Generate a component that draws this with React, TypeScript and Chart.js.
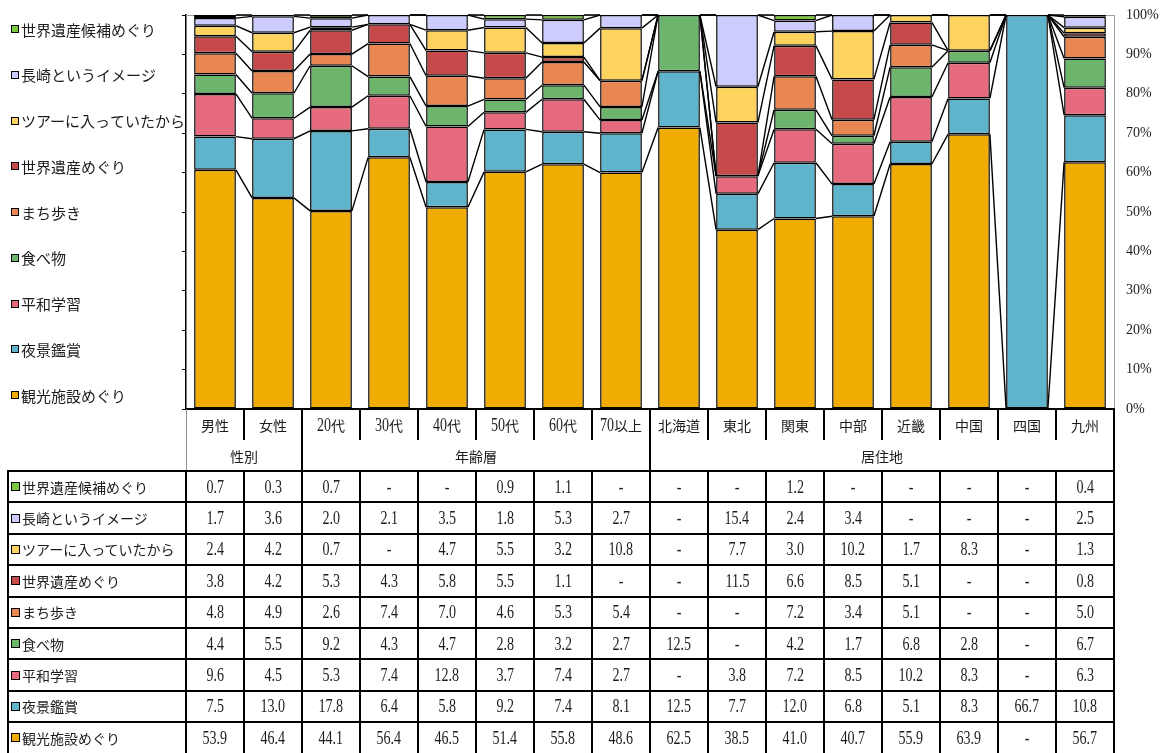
import React, { useEffect, useRef } from 'react';
import { Chart, registerables } from 'chart.js';
Chart.register(...registerables);

// ---------- data ----------
const categories = ['男性', '女性', '20代', '30代', '40代', '50代', '60代', '70以上', '北海道', '東北', '関東', '中部', '近畿', '中国', '四国', '九州'];
const groupLabels = ['性別', '年齢層', '居住地'];
const groupSpans = [2, 6, 8];

// series, bottom of the stack first
const seriesNames = ['観光施設めぐり', '夜景鑑賞', '平和学習', '食べ物', 'まち歩き', '世界遺産めぐり', 'ツアーに入っていたから', '長崎というイメージ', '世界遺産候補めぐり'];
const seriesColors = ['#F0AC00', '#5FB3CA', '#E66B7E', '#6DB56D', '#E88752', '#C64A4A', '#FFD45E', '#CCCCFF', '#7DC843'];

const kankoShisetsu = [53.9, 46.4, 44.1, 56.4, 46.5, 51.4, 55.8, 48.6, 62.5, 38.5, 41.0, 40.7, 55.9, 63.9, null, 56.7];
const yakei = [7.5, 13.0, 17.8, 6.4, 5.8, 9.2, 7.4, 8.1, 12.5, 7.7, 12.0, 6.8, 5.1, 8.3, 66.7, 10.8];
const heiwa = [9.6, 4.5, 5.3, 7.4, 12.8, 3.7, 7.4, 2.7, null, 3.8, 7.2, 8.5, 10.2, 8.3, null, 6.3];
const tabemono = [4.4, 5.5, 9.2, 4.3, 4.7, 2.8, 3.2, 2.7, 12.5, null, 4.2, 1.7, 6.8, 2.8, null, 6.7];
const machiaruki = [4.8, 4.9, 2.6, 7.4, 7.0, 4.6, 5.3, 5.4, null, null, 7.2, 3.4, 5.1, null, null, 5.0];
const sekaiIsan = [3.8, 4.2, 5.3, 4.3, 5.8, 5.5, 1.1, null, null, 11.5, 6.6, 8.5, 5.1, null, null, 0.8];
const tour = [2.4, 4.2, 0.7, null, 4.7, 5.5, 3.2, 10.8, null, 7.7, 3.0, 10.2, 1.7, 8.3, null, 1.3];
const nagasakiImage = [1.7, 3.6, 2.0, 2.1, 3.5, 1.8, 5.3, 2.7, null, 15.4, 2.4, 3.4, null, null, null, 2.5];
const sekaiIsanKouho = [0.7, 0.3, 0.7, null, null, 0.9, 1.1, null, null, null, 1.2, null, null, null, null, 0.4];

const seriesValues: (number | null)[][] = [kankoShisetsu, yakei, heiwa, tabemono, machiaruki, sekaiIsan, tour, nagasakiImage, sekaiIsanKouho];

// 100% stacked shares
const totals = categories.map((_, i) => seriesValues.reduce((s, arr) => s + (arr[i] ?? 0), 0));
const shares = seriesValues.map((arr) => arr.map((v, i) => (v == null ? null : (v / totals[i]) * 100)));

// ---------- layout ----------
const W = 1161;
const H = 753;
const PLOT_LEFT = 186;
const PLOT_RIGHT = 1114;
const PLOT_TOP = 15;
const PLOT_BOTTOM = 409;
const COL_W = (PLOT_RIGHT - PLOT_LEFT) / categories.length;
const BAR_PCT = 0.72;
const HEAD1_BOTTOM = 440;
const HEAD2_BOTTOM = 471;
const ROW_H = 31.4;
const TABLE_LEFT = 8;

const SERIF = '"Liberation Serif", "Times New Roman", serif';
const CJK = '"Noto Sans CJK JP", sans-serif';
const TEXT_COLOR = '#1c1c1c';

const decorPlugin = {
  id: 'decor',
  beforeDatasetsDraw(chart: any) {
    const { ctx, chartArea: a, scales } = chart;
    const x = scales.x;
    const y = scales.y;
    ctx.save();
    ctx.strokeStyle = '#a0a0a0';
    ctx.lineWidth = 1;
    ctx.beginPath();
    ctx.moveTo(a.left, a.top + 0.5);
    ctx.lineTo(a.right, a.top + 0.5);
    ctx.stroke();

    const step = x.getPixelForValue(1) - x.getPixelForValue(0);
    const hw = (step * BAR_PCT) / 2;
    ctx.strokeStyle = '#000';
    ctx.lineWidth = 1.4;
    let cum = categories.map(() => 0);
    shares.forEach((arr) => {
      cum = cum.map((c, i) => c + (arr[i] ?? 0));
      ctx.beginPath();
      for (let i = 0; i < categories.length - 1; i++) {
        ctx.moveTo(x.getPixelForValue(i) + hw, y.getPixelForValue(Math.min(cum[i], 100)));
        ctx.lineTo(x.getPixelForValue(i + 1) - hw, y.getPixelForValue(Math.min(cum[i + 1], 100)));
      }
      ctx.stroke();
    });
    ctx.restore();
  },
  afterDraw(chart: any) {
    const { ctx, chartArea: a } = chart;
    const n = seriesNames.length;
    const first = a.top + 14;
    const step = (a.bottom - a.top - 28) / (n - 1);
    ctx.save();
    ctx.font = `15px ${CJK}`;
    ctx.textBaseline = 'middle';
    ctx.textAlign = 'left';
    for (let j = 0; j < n; j++) {
      const k = n - 1 - j;
      const cy = first + j * step;
      ctx.fillStyle = seriesColors[k];
      ctx.fillRect(11, Math.round(cy) - 4, 8, 8);
      ctx.strokeStyle = '#000';
      ctx.lineWidth = 1;
      ctx.strokeRect(11.5, Math.round(cy) - 3.5, 7, 7);
      ctx.fillStyle = TEXT_COLOR;
      ctx.fillText(seriesNames[k], 21, cy + 1);
    }
    ctx.restore();
  },
};

const LATIN_SIZE = 18;
const LATIN_SCALE = 0.78;
function latinWidth(s: string, size: number) {
  let w = 0;
  for (const ch of s) w += ch === '.' ? 0.25 : ch === '%' ? 0.833 : ch === '-' ? 0.333 : 0.5;
  return w * size;
}

function Mixed({ text }: { text: string }) {
  const runs = text.match(/[\x00-\x7F]+|[^\x00-\x7F]+/g) || [];
  return (
    <>
      {runs.map((r, i) =>
        /^[\x00-\x7F]+$/.test(r) ? (
          <span
            key={i}
            style={{
              display: 'inline-block',
              fontFamily: SERIF,
              fontSize: LATIN_SIZE,
              transform: `scaleX(${LATIN_SCALE})`,
              margin: `0 ${(-latinWidth(r, LATIN_SIZE) * (1 - LATIN_SCALE)) / 2}px`,
            }}
          >
            {r}
          </span>
        ) : (
          <span key={i} style={{ fontFamily: CJK, fontSize: 14 }}>
            {r}
          </span>
        )
      )}
    </>
  );
}

function Cell({ left, top, width, height, text }: any) {
  return (
    <div
      style={{
        position: 'absolute',
        left,
        top,
        width,
        height,
        display: 'flex',
        alignItems: 'center',
        justifyContent: 'center',
        whiteSpace: 'nowrap',
        lineHeight: 1,
        color: TEXT_COLOR,
      }}
    >
      {text}
    </div>
  );
}

function Line({ x1, y1, x2, y2, w = 2, color = '#000' }: any) {
  const horizontal = y1 === y2;
  return (
    <div
      style={{
        position: 'absolute',
        left: horizontal ? x1 : x1 - w / 2,
        top: horizontal ? y1 - w / 2 : y1,
        width: horizontal ? x2 - x1 : w,
        height: horizontal ? w : y2 - y1,
        background: color,
      }}
    />
  );
}

function DataTable() {
  const els: any[] = [];
  const colX = (k: number) => PLOT_LEFT + k * COL_W;
  categories.forEach((c, i) => {
    els.push(<Cell key={'cat' + i} left={colX(i)} top={PLOT_BOTTOM} width={COL_W} height={HEAD1_BOTTOM - PLOT_BOTTOM} text={<Mixed text={c} />} />);
  });
  let start = 0;
  const groupBounds: number[] = [];
  groupLabels.forEach((g, gi) => {
    els.push(
      <Cell key={'grp' + gi} left={colX(start)} top={HEAD1_BOTTOM} width={COL_W * groupSpans[gi]} height={HEAD2_BOTTOM - HEAD1_BOTTOM} text={<Mixed text={g} />} />
    );
    start += groupSpans[gi];
    groupBounds.push(start);
  });
  const n = seriesNames.length;
  for (let j = 0; j < n; j++) {
    const k = n - 1 - j;
    const top = HEAD2_BOTTOM + j * ROW_H;
    els.push(
      <div key={'lab' + j} style={{ position: 'absolute', left: TABLE_LEFT, top, width: PLOT_LEFT - TABLE_LEFT, height: ROW_H, display: 'flex', alignItems: 'center', whiteSpace: 'nowrap', color: TEXT_COLOR, lineHeight: 1 }}>
        <span style={{ display: 'inline-block', width: 7, height: 7, background: seriesColors[k], border: '1px solid #000', marginLeft: 3, marginRight: 2 }} />
        <span style={{ fontFamily: CJK, fontSize: 14 }}>{seriesNames[k]}</span>
      </div>
    );
    seriesValues[k].forEach((v, i) => {
      els.push(<Cell key={`v${j}_${i}`} left={colX(i)} top={top} width={COL_W} height={ROW_H} text={<Mixed text={v == null ? '-' : v.toFixed(1)} />} />);
    });
  }
  const L: any[] = [];
  L.push(<Line key="htop" x1={PLOT_LEFT} y1={PLOT_BOTTOM} x2={PLOT_RIGHT + 1} y2={PLOT_BOTTOM} />);
  for (let k = 1; k < categories.length; k++) {
    const full = groupBounds.includes(k);
    L.push(<Line key={'hd' + k} x1={colX(k)} y1={PLOT_BOTTOM} x2={colX(k)} y2={full ? HEAD2_BOTTOM : HEAD1_BOTTOM} />);
  }
  L.push(<Line key="hl" x1={PLOT_LEFT} y1={PLOT_BOTTOM} x2={PLOT_LEFT} y2={HEAD2_BOTTOM} w={1} color="#909090" />);
  L.push(<Line key="hr" x1={PLOT_RIGHT} y1={PLOT_BOTTOM} x2={PLOT_RIGHT} y2={H} />);
  for (let j = 0; j <= n; j++) {
    const y = HEAD2_BOTTOM + j * ROW_H;
    L.push(<Line key={'rh' + j} x1={TABLE_LEFT - 1} y1={y} x2={PLOT_RIGHT + 1} y2={y} />);
  }
  L.push(<Line key="vl" x1={TABLE_LEFT} y1={HEAD2_BOTTOM} x2={TABLE_LEFT} y2={H} />);
  for (let k = 0; k < categories.length; k++) {
    L.push(<Line key={'dv' + k} x1={colX(k)} y1={HEAD2_BOTTOM} x2={colX(k)} y2={H} />);
  }
  return (
    <>
      {els}
      {L}
    </>
  );
}

export default function App() {
  const canvasRef = useRef<HTMLCanvasElement>(null);
  useEffect(() => {
    const chart = new Chart(canvasRef.current as HTMLCanvasElement, {
      type: 'bar',
      data: {
        labels: categories,
        datasets: seriesNames.map((name, k) => ({
          label: name,
          data: shares[k] as any,
          backgroundColor: seriesColors[k],
          borderColor: '#000',
          borderWidth: 1.5,
          borderSkipped: false,
          barPercentage: BAR_PCT,
          categoryPercentage: 1,
          yAxisID: 'y',
        })),
      },
      options: {
        responsive: false,
        animation: false,
        devicePixelRatio: 1,
        layout: { padding: { top: PLOT_TOP, bottom: H - PLOT_BOTTOM, left: 0, right: 0 } },
        plugins: { legend: { display: false }, tooltip: { enabled: false } },
        scales: {
          x: { type: 'category', stacked: true, display: false, offset: true },
          y: {
            position: 'right',
            stacked: true,
            min: 0,
            max: 100,
            ticks: {
              stepSize: 10,
              callback: (v: any) => v + '%',
              padding: 3,
              font: { family: SERIF, size: 14 },
              color: TEXT_COLOR,
            },
            grid: { display: true, drawOnChartArea: false, drawTicks: true, tickLength: 9, color: 'rgba(0,0,0,0)' },
            border: { display: true, color: '#a0a0a0', width: 1 },
            afterFit: (s: any) => {
              s.width = W - PLOT_RIGHT;
            },
          },
          yl: {
            position: 'left',
            min: 0,
            max: 100,
            ticks: { display: false, stepSize: 10 },
            grid: { drawOnChartArea: false, drawTicks: true, tickLength: 4, color: '#000', lineWidth: 1 },
            border: { display: true, color: '#000', width: 1.5 },
            afterFit: (s: any) => {
              s.width = PLOT_LEFT;
            },
          },
        } as any,
      },
      plugins: [decorPlugin],
    });
    return () => chart.destroy();
  }, []);

  return (
    <div style={{ position: 'absolute', left: 0, top: 0, width: W, height: H, overflow: 'hidden', background: '#fff' }}>
      <canvas ref={canvasRef} width={W} height={H} style={{ position: 'absolute', left: 0, top: 0 }} />
      <DataTable />
    </div>
  );
}
